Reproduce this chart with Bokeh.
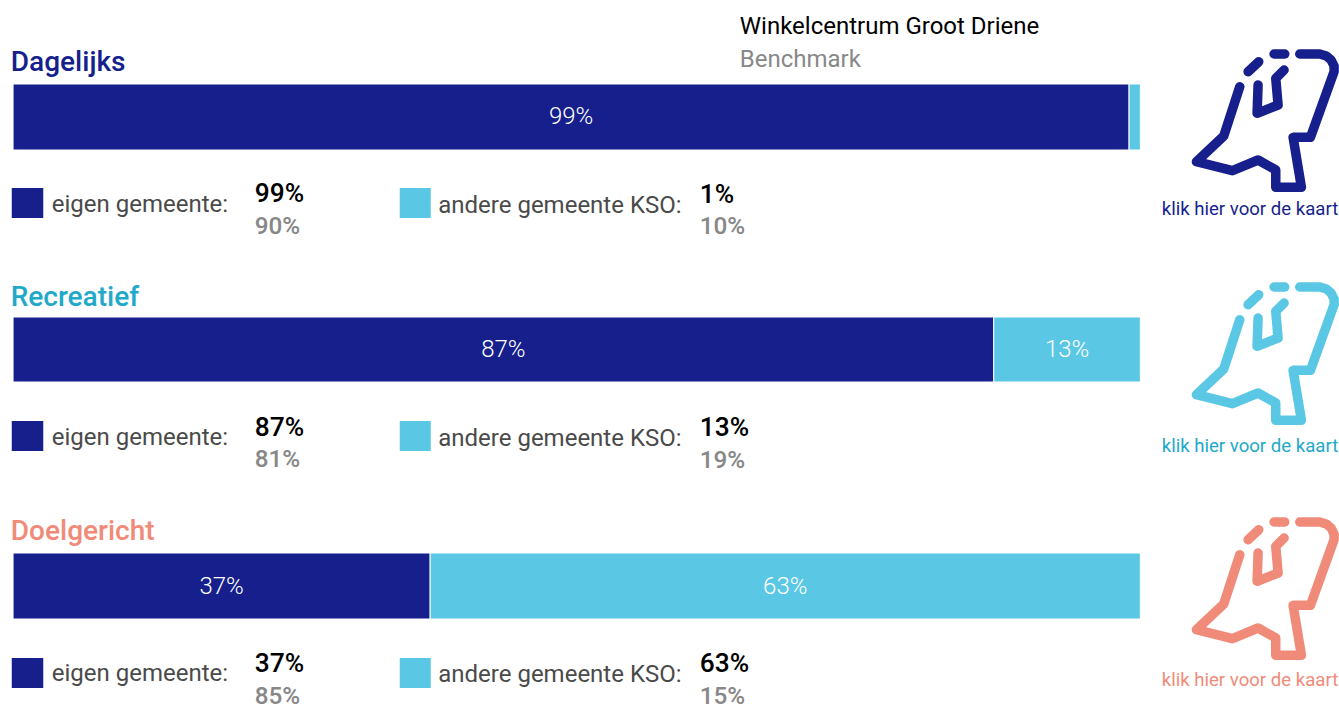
from bokeh.embed import file_html
from bokeh.resources import INLINE
from bokeh.plotting import figure
from bokeh.models import Range1d
from bokeh.core.properties import value

categories = ["Dagelijks", "Recreatief", "Doelgericht"]
eigen = [99, 87, 37]
andere = [1, 13, 63]
bench_eigen = [90, 81, 85]
bench_andere = [10, 19, 15]
title_colors = ["#161F8C", "#22A9C9", "#F18B79"]
icon_colors = ["#161F8C", "#5AC8E4", "#F18B79"]
link_colors = ["#161F8C", "#22A9C9", "#F18B79"]
NAVY = "#161F8C"
CYAN = "#5AC8E4"

W, H = 1339, 704
X0, X100 = 13.3, 1140.6
ppu = (X100 - X0) / 100


def px(v):
    return (v - X0) / ppu


p = figure(width=W, height=H, output_backend="svg", toolbar_location=None,
           x_range=Range1d(px(0.75), px(W + 0.75)), y_range=Range1d(H + 0.5, 0.5),
           min_border=0, outline_line_color=None)
p.axis.visible = False
p.grid.visible = False
p.background_fill_color = "white"


def txt(x, y, s, color, size, font="Roboto", align="left"):
    p.text([px(x)], [y], text=[s], text_color=color, text_font=value(font),
           text_font_size=f"{size}px", text_align=align, text_baseline="alphabetic")


bar_top = [84, 317, 553]
bar_bot = [150, 382, 619]
title_y = [61.5, 296, 530.5]
sq_top = [188, 421, 658]
leg_y = [203.5, 436.5, 673]
leg2_y = [205, 437.5, 673.5]
val_y = [193, 426.5, 663]
ben_y = [225, 458, 695]
val2_y = [194, 427, 663]
ben2_y = [225, 459, 695]
icon_dy = [0, 233, 468]
link_y = [209, 446, 680]
label_y = [116, 349, 586]

icon_paths = [
    [(300, 170), (252, 318), (170, 395), (278, 422), (355, 390), (408, 420), (408, 472), (485, 472),
     (460, 322), (512, 322), (583, 125), (583, 108), (574, 90), (560, 78), (540, 72), (480, 72)],
    [(403, 72), (435, 72)],
    [(325, 125), (357, 95)],
    [(355, 165), (352, 250), (415, 225), (408, 145), (433, 120)],
]

for i, cat in enumerate(categories):
    y = (bar_top[i] + bar_bot[i]) / 2
    h = bar_bot[i] - bar_top[i]
    p.hbar(y=[y], left=[0], right=[eigen[i]], height=h, fill_color=NAVY, line_color="white", line_width=1)
    p.hbar(y=[y], left=[eigen[i]], right=[eigen[i] + andere[i]], height=h, fill_color=CYAN,
           line_color="white", line_width=1)
    txt(11, title_y[i], cat, title_colors[i], 28, "Roboto Medium")
    p.text([eigen[i] / 2], [label_y[i]], text=[f"{eigen[i]}%"], text_color="white",
           text_font=value("Roboto Light"), text_font_size="24px", text_align="center", text_baseline="alphabetic")
    if andere[i] >= 5:
        p.text([eigen[i] + andere[i] / 2], [label_y[i]], text=[f"{andere[i]}%"], text_color="white",
               text_font=value("Roboto Light"), text_font_size="24px", text_align="center",
               text_baseline="alphabetic")
    # legend
    p.quad(left=[px(12)], right=[px(43.5)], top=[sq_top[i]], bottom=[sq_top[i] + 30], fill_color=NAVY, line_color=None)
    p.quad(left=[px(400)], right=[px(431)], top=[sq_top[i]], bottom=[sq_top[i] + 30], fill_color=CYAN, line_color=None)
    txt(52, leg_y[i], "eigen gemeente:", "#4A4A4A", 24)
    txt(438.5, leg2_y[i], "andere gemeente KSO:", "#4A4A4A", 24)
    txt(255, val_y[i], f"{eigen[i]}%", "#000000", 26.4, "Roboto Medium")
    txt(255, ben_y[i], f"{bench_eigen[i]}%", "#888888", 24.3, "Roboto Medium")
    txt(700, val2_y[i], f"{andere[i]}%", "#000000", 26.4, "Roboto Medium")
    txt(700, ben2_y[i], f"{bench_andere[i]}%", "#888888", 24.3, "Roboto Medium")
    # icon
    for path in icon_paths:
        xs = [px(1140 + a / 3) for a, b in path]
        ys = [30 + b / 3 + icon_dy[i] for a, b in path]
        p.line(xs, ys, line_color=icon_colors[i], line_width=9.5, line_cap="round", line_join="round")
    txt(1162, link_y[i], "klik hier voor de kaart", link_colors[i], 18.6)

txt(740, 26, "Winkelcentrum Groot Driene", "#000000", 24)
txt(740, 59, "Benchmark", "#888888", 24)

open("out.html", "w").write(file_html(p, INLINE))
